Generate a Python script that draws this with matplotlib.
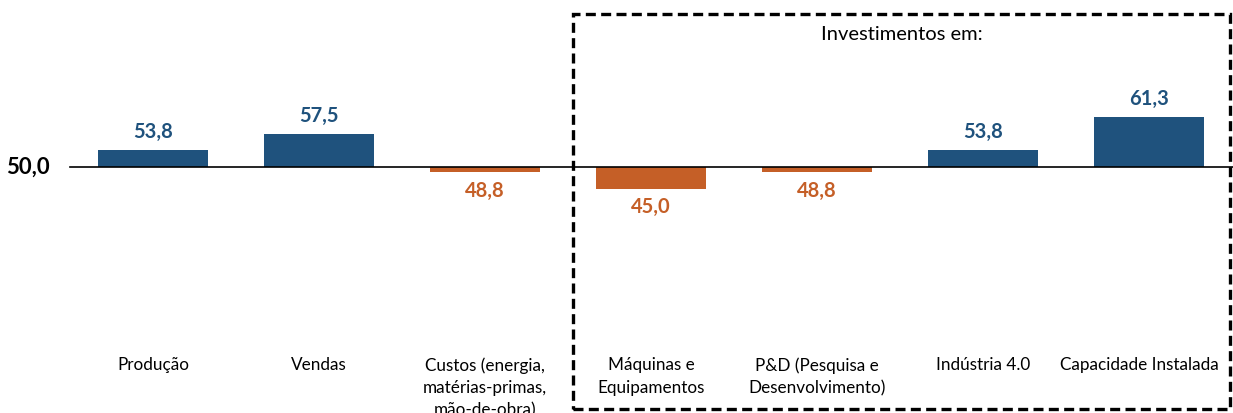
import matplotlib
matplotlib.use("Agg")
import matplotlib.pyplot as plt
from matplotlib.patches import Rectangle

plt.rcParams["font.family"] = ["Lato", "DejaVu Sans"]

# ---------- Data ----------
categories = [
    "Produção",
    "Vendas",
    "Custos (energia,\nmatérias-primas,\nmão-de-obra)",
    "Máquinas e\nEquipamentos",
    "P&D (Pesquisa e\nDesenvolvimento)",
    "Indústria 4.0",
    "Capacidade Instalada",
]
values = [53.8, 57.5, 48.8, 45.0, 48.8, 53.8, 61.3]
baseline = 50.0

BLUE = "#1F527D"
ORANGE = "#C55F27"

W, H, DPI = 1233, 413, 100
fig = plt.figure(figsize=(W / DPI, H / DPI), dpi=DPI)
ax = fig.add_axes([0, 0, 1, 1])
ax.axis("off")

# pixel layout: first bar centred at 153 px, 166 px per category,
# baseline at 167 px from the top, 4.4 px per index point
X0, STEP = 153, 166
Y_BASE, PX_PER_UNIT = 167, 4.4
ax.set_xlim(-X0 / STEP, (W - X0) / STEP)
ax.set_ylim(baseline - (H - Y_BASE) / PX_PER_UNIT, baseline + Y_BASE / PX_PER_UNIT)

xs = list(range(len(categories)))
heights = [v - baseline for v in values]
colors = [BLUE if v >= baseline else ORANGE for v in values]
ax.bar(xs, heights, bottom=baseline, width=0.66, color=colors, zorder=2)

# baseline axis
ax.plot([-0.5, ax.get_xlim()[1]], [baseline, baseline], color="black", lw=1.2, zorder=3)
ax.text(-0.62, baseline, "50,0", ha="right", va="center",
        fontsize=16, fontweight="bold", color="black")

# value labels
for x, v, c in zip(xs, values, colors):
    above = v >= baseline
    ax.annotate(f"{v:.1f}".replace(".", ","), (x, v),
                xytext=(0, 6 if above else -6), textcoords="offset points",
                ha="center", va="bottom" if above else "top",
                fontsize=14.5, fontweight="bold", color=c)

# category labels (last one nudged left so it stays inside the frame)
label_y = baseline - (357 - Y_BASE) / PX_PER_UNIT
for x, lab in zip(xs, categories):
    dx = -0.055 if x == len(xs) - 1 else 0
    ax.text(x + dx, label_y, lab, ha="center", va="top", fontsize=12.3,
            color="black", linespacing=1.5)

# dashed frame around the investment group
bx0, bx1, by0, by1 = 573, 1230, 14, 409
fig.patches.append(Rectangle(
    (bx0 / W, 1 - by1 / H), (bx1 - bx0) / W, (by1 - by0) / H,
    transform=fig.transFigure, fill=False, edgecolor="black",
    linewidth=2.4, linestyle=(0, (3, 1.6)), zorder=5,
))
fig.text((bx0 + bx1) / 2 / W, 1 - 35 / H, "Investimentos em:",
         ha="center", va="center", fontsize=14.5, color="black")

fig.savefig("out.png", dpi=DPI)
